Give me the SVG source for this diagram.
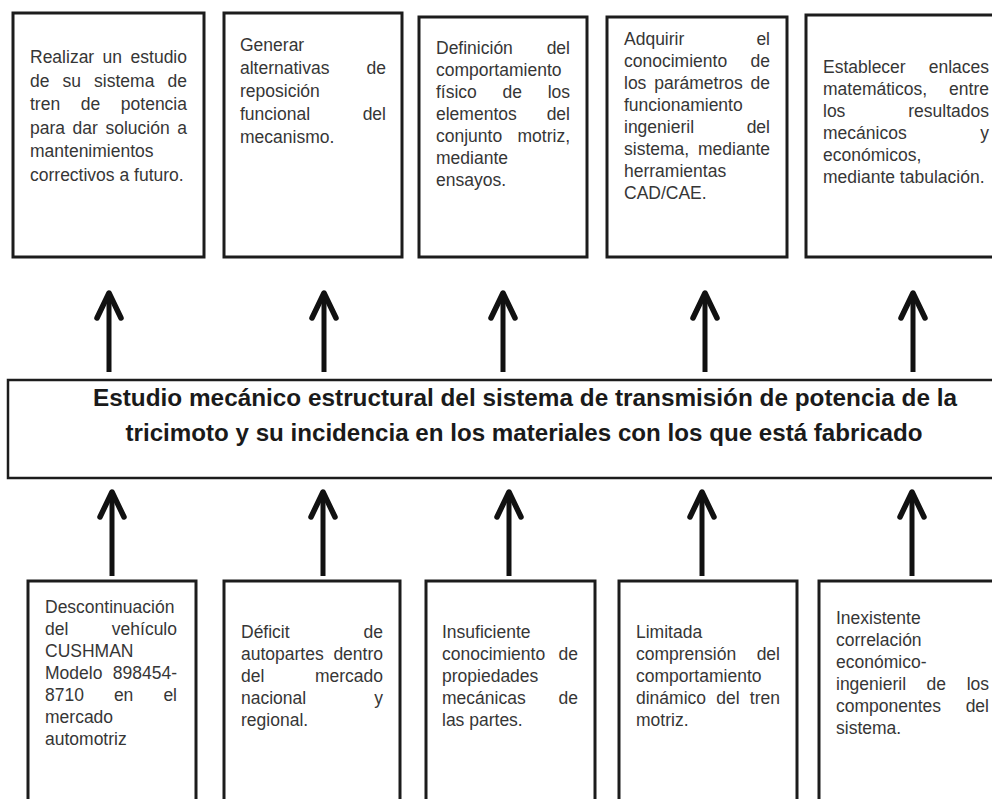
<svg xmlns="http://www.w3.org/2000/svg" width="992" height="799" viewBox="0 0 992 799">
<style>
.box{fill:#fff;stroke:#1c1c1c;stroke-width:3}
.t{font-family:"Liberation Sans",Arial,sans-serif;font-size:17.5px;fill:#363636}
.e{text-anchor:end}
.h{font-family:"Liberation Sans",Arial,sans-serif;font-size:23px;font-weight:bold;fill:#1a1a1a;text-anchor:middle}
.c{stroke:#111;stroke-width:5;fill:none}
</style>
<defs>
<marker id="ah" markerUnits="userSpaceOnUse" viewBox="-30 -16 34 32" markerWidth="34" markerHeight="32" refX="-3" refY="0" orient="auto" overflow="visible">
<path d="M-25,-12 L0,0 L-25,12" fill="none" stroke="#111" stroke-width="5.5" stroke-linejoin="round" stroke-linecap="round"/>
</marker>
</defs>
<rect width="992" height="799" fill="#fff"/>

<g id="top1">
<rect class="box" x="13" y="13" width="191" height="244"/>
<text class="t" x="30" y="63">Realizar</text><text class="t" x="102.6" y="63">un</text><text class="t e" x="187" y="63">estudio</text>
<text class="t" x="30" y="86.5">de</text><text class="t" x="62.6" y="86.5">su</text><text class="t" x="94.1" y="86.5">sistema</text><text class="t e" x="187" y="86.5">de</text>
<text class="t" x="30" y="110">tren</text><text class="t" x="80.8" y="110">de</text><text class="t e" x="187" y="110">potencia</text>
<text class="t" x="30" y="133.5">para</text><text class="t" x="72.6" y="133.5">dar</text><text class="t" x="105.5" y="133.5">solución</text><text class="t e" x="187" y="133.5">a</text>
<text class="t" x="30" y="157">mantenimientos</text>
<text class="t" x="30" y="180.5">correctivos a futuro.</text>
</g>

<g id="top2">
<rect class="box" x="224" y="13" width="178" height="244"/>
<text class="t" x="240" y="51">Generar</text>
<text class="t" x="240" y="74">alternativas</text><text class="t e" x="386" y="74">de</text>
<text class="t" x="240" y="97">reposición</text>
<text class="t" x="240" y="120">funcional</text><text class="t e" x="386" y="120">del</text>
<text class="t" x="240" y="143">mecanismo.</text>
</g>

<g id="top3">
<rect class="box" x="419" y="17" width="168" height="240"/>
<text class="t" x="436" y="54">Definición</text><text class="t e" x="570" y="54">del</text>
<text class="t" x="436" y="76">comportamiento</text>
<text class="t" x="436" y="98">físico</text><text class="t" x="502.5" y="98">de</text><text class="t e" x="570" y="98">los</text>
<text class="t" x="436" y="120">elementos</text><text class="t e" x="570" y="120">del</text>
<text class="t" x="436" y="142">conjunto</text><text class="t e" x="570" y="142">motriz,</text>
<text class="t" x="436" y="164">mediante</text>
<text class="t" x="436" y="186">ensayos.</text>
</g>

<g id="top4">
<rect class="box" x="607" y="17" width="180" height="240"/>
<text class="t" x="624" y="45">Adquirir</text><text class="t e" x="770" y="45">el</text>
<text class="t" x="624" y="67">conocimiento</text><text class="t e" x="770" y="67">de</text>
<text class="t" x="624" y="89">los</text><text class="t" x="654.2" y="89">parámetros</text><text class="t e" x="770" y="89">de</text>
<text class="t" x="624" y="111">funcionamiento</text>
<text class="t" x="624" y="133">ingenieril</text><text class="t e" x="770" y="133">del</text>
<text class="t" x="624" y="155">sistema,</text><text class="t e" x="770" y="155">mediante</text>
<text class="t" x="624" y="177">herramientas</text>
<text class="t" x="624" y="199">CAD/CAE.</text>
</g>

<g id="top5">
<rect class="box" x="806" y="15" width="200" height="242"/>
<text class="t" x="823" y="73">Establecer</text><text class="t e" x="989" y="73">enlaces</text>
<text class="t" x="823" y="95">matemáticos,</text><text class="t e" x="989" y="95">entre</text>
<text class="t" x="823" y="117">los</text><text class="t e" x="989" y="117">resultados</text>
<text class="t" x="823" y="139">mecánicos</text><text class="t e" x="989" y="139">y</text>
<text class="t" x="823" y="161">económicos,</text>
<text class="t" x="823" y="183">mediante tabulación.</text>
</g>

<g id="center">
<rect class="box" x="8" y="380" width="998" height="98" style="stroke-width:2.5"/>
<text class="h" x="525" y="406" textLength="864" lengthAdjust="spacingAndGlyphs">Estudio mecánico estructural del sistema de transmisión de potencia de la</text>
<text class="h" x="524" y="441" textLength="797" lengthAdjust="spacingAndGlyphs">tricimoto y su incidencia en los materiales con los que está fabricado</text>
</g>

<g id="bot1">
<rect class="box" x="28" y="581" width="168" height="240"/>
<text class="t" x="45" y="613">Descontinuación</text>
<text class="t" x="45" y="635">del</text><text class="t e" x="177" y="635">vehículo</text>
<text class="t" x="45" y="657">CUSHMAN</text>
<text class="t" x="45" y="679">Modelo</text><text class="t e" x="177" y="679">898454-</text>
<text class="t" x="45" y="701">8710</text><text class="t" x="113.9" y="701">en</text><text class="t e" x="177" y="701">el</text>
<text class="t" x="45" y="723">mercado</text>
<text class="t" x="45" y="745">automotriz</text>
</g>

<g id="bot2">
<rect class="box" x="224" y="581" width="176" height="240"/>
<text class="t" x="241" y="638">Déficit</text><text class="t e" x="383" y="638">de</text>
<text class="t" x="241" y="660">autopartes</text><text class="t e" x="383" y="660">dentro</text>
<text class="t" x="241" y="682">del</text><text class="t e" x="383" y="682">mercado</text>
<text class="t" x="241" y="704">nacional</text><text class="t e" x="383" y="704">y</text>
<text class="t" x="241" y="726">regional.</text>
</g>

<g id="bot3">
<rect class="box" x="426" y="581" width="169" height="240"/>
<text class="t" x="442" y="638">Insuficiente</text>
<text class="t" x="442" y="660">conocimiento</text><text class="t e" x="578" y="660">de</text>
<text class="t" x="442" y="682">propiedades</text>
<text class="t" x="442" y="704">mecánicas</text><text class="t e" x="578" y="704">de</text>
<text class="t" x="442" y="726">las partes.</text>
</g>

<g id="bot4">
<rect class="box" x="619" y="581" width="178" height="240"/>
<text class="t" x="636" y="638">Limitada</text>
<text class="t" x="636" y="660">comprensión</text><text class="t e" x="780" y="660">del</text>
<text class="t" x="636" y="682">comportamiento</text>
<text class="t" x="636" y="704">dinámico</text><text class="t" x="716.3" y="704">del</text><text class="t e" x="780" y="704">tren</text>
<text class="t" x="636" y="726">motriz.</text>
</g>

<g id="bot5">
<rect class="box" x="819" y="581" width="190" height="240"/>
<text class="t" x="836" y="624">Inexistente</text>
<text class="t" x="836" y="646">correlación</text>
<text class="t" x="836" y="668">económico-</text>
<text class="t" x="836" y="690">ingenieril</text><text class="t" x="926.5" y="690">de</text><text class="t e" x="989" y="690">los</text>
<text class="t" x="836" y="712">componentes</text><text class="t e" x="989" y="712">del</text>
<text class="t" x="836" y="734">sistema.</text>
</g>

<g id="connectors">
<line class="c" x1="109" y1="372" x2="109" y2="296" marker-end="url(#ah)"/>
<line class="c" x1="324" y1="372" x2="324" y2="296" marker-end="url(#ah)"/>
<line class="c" x1="503" y1="372" x2="503" y2="296" marker-end="url(#ah)"/>
<line class="c" x1="705" y1="372" x2="705" y2="296" marker-end="url(#ah)"/>
<line class="c" x1="913" y1="372" x2="913" y2="296" marker-end="url(#ah)"/>
<line class="c" x1="112" y1="576" x2="112" y2="495" marker-end="url(#ah)"/>
<line class="c" x1="323" y1="576" x2="323" y2="495" marker-end="url(#ah)"/>
<line class="c" x1="509" y1="576" x2="509" y2="495" marker-end="url(#ah)"/>
<line class="c" x1="702" y1="576" x2="702" y2="495" marker-end="url(#ah)"/>
<line class="c" x1="912" y1="576" x2="912" y2="495" marker-end="url(#ah)"/>
</g>
</svg>
